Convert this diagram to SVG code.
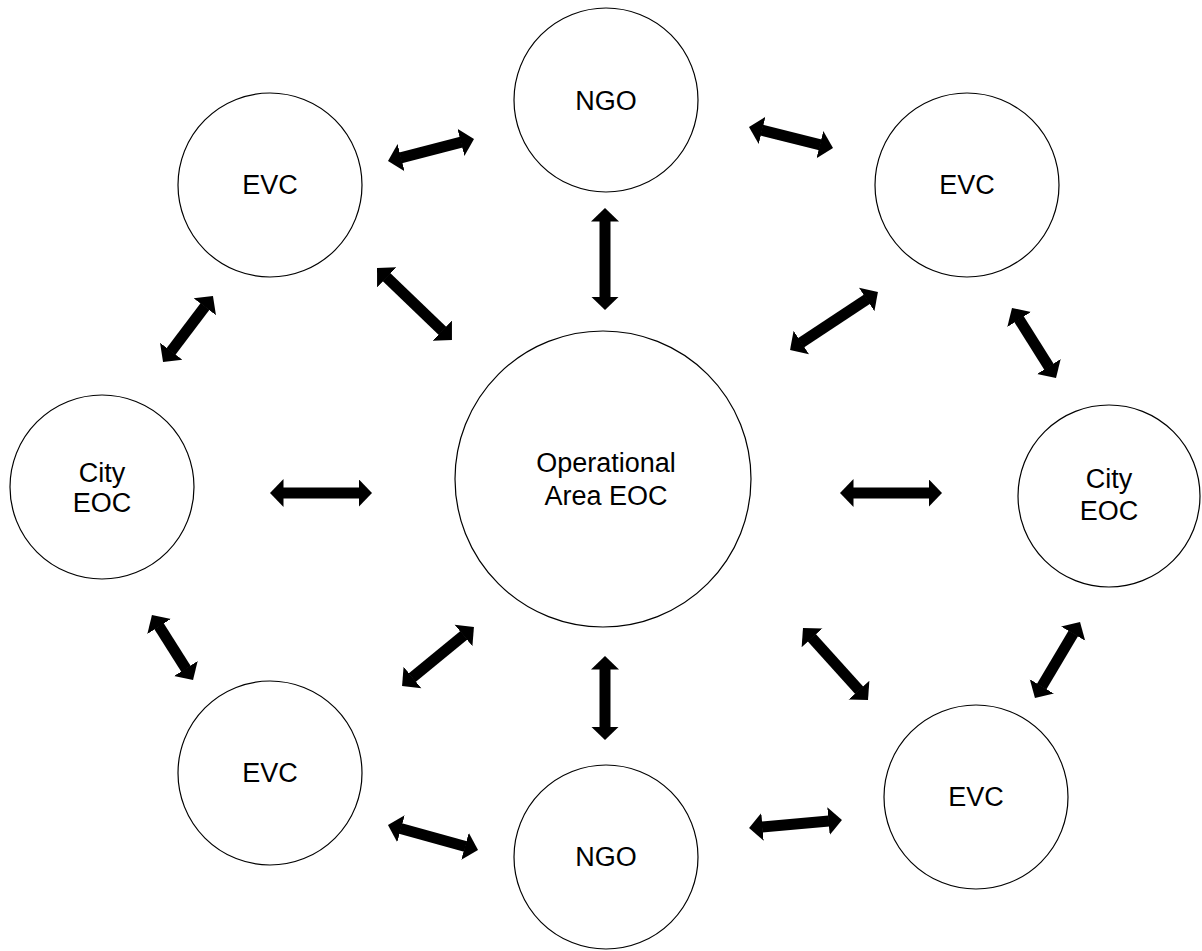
<svg xmlns="http://www.w3.org/2000/svg" width="1202" height="951" viewBox="0 0 1202 951">
<style>
.node{fill:#fff;stroke:#000;stroke-width:1.2}
.lbl{font-family:"Liberation Sans",Arial,sans-serif;font-size:27px;fill:#000;text-anchor:middle}
.arr{stroke:#000;stroke-width:11;fill:none;marker-start:url(#head);marker-end:url(#head)}
</style>
<defs>
<marker id="head" markerUnits="userSpaceOnUse" viewBox="0 -15 14 30" markerWidth="14" markerHeight="30" refX="0.5" refY="0" orient="auto-start-reverse">
<path d="M0,-14 L13.5,0 L0,14 z" fill="#000"/>
</marker>
</defs>
<rect width="1202" height="951" fill="#fff"/>
<g id="connectors">
<line class="arr" x1="400.6" y1="157.8" x2="461.4" y2="142.2"/>
<line class="arr" x1="761.6" y1="130.2" x2="820.4" y2="144.8"/>
<line class="arr" x1="605" y1="221" x2="605" y2="297"/>
<line class="arr" x1="386.4" y1="277" x2="442.6" y2="331"/>
<line class="arr" x1="867.1" y1="299.2" x2="800.9" y2="342.8"/>
<line class="arr" x1="205.1" y1="306.4" x2="170.9" y2="351.6"/>
<line class="arr" x1="1018.9" y1="319" x2="1049.1" y2="367"/>
<line class="arr" x1="283" y1="493" x2="359" y2="493"/>
<line class="arr" x1="853" y1="493" x2="929" y2="493"/>
<line class="arr" x1="158.9" y1="626" x2="186.1" y2="669"/>
<line class="arr" x1="412.1" y1="677.8" x2="463.9" y2="635.2"/>
<line class="arr" x1="605" y1="669" x2="605" y2="727"/>
<line class="arr" x1="811.7" y1="637.6" x2="859.3" y2="690.4"/>
<line class="arr" x1="1073.4" y1="633.2" x2="1041.6" y2="686.8"/>
<line class="arr" x1="400.5" y1="828.5" x2="465.5" y2="846.5"/>
<line class="arr" x1="762" y1="826.9" x2="829" y2="821.1"/>
</g>
<g id="center">
<circle class="node" cx="603" cy="479" r="148"/>
<text class="lbl" x="606" y="472">Operational</text>
<text class="lbl" x="606" y="505">Area EOC</text>
</g>
<g id="ngo-top">
<circle class="node" cx="606" cy="100" r="92"/>
<text class="lbl" x="606" y="110">NGO</text>
</g>
<g id="ngo-bottom">
<circle class="node" cx="606" cy="857" r="92"/>
<text class="lbl" x="606" y="866">NGO</text>
</g>
<g id="evc-tl">
<circle class="node" cx="270" cy="185" r="92"/>
<text class="lbl" x="270" y="194">EVC</text>
</g>
<g id="evc-tr">
<circle class="node" cx="967" cy="185" r="92"/>
<text class="lbl" x="967" y="194">EVC</text>
</g>
<g id="city-left">
<circle class="node" cx="102" cy="487" r="92"/>
<text class="lbl" x="102" y="482">City</text>
<text class="lbl" x="102" y="512">EOC</text>
</g>
<g id="city-right">
<circle class="node" cx="1109" cy="496" r="91"/>
<text class="lbl" x="1109" y="488">City</text>
<text class="lbl" x="1109" y="520">EOC</text>
</g>
<g id="evc-bl">
<circle class="node" cx="270" cy="773" r="92"/>
<text class="lbl" x="270" y="782">EVC</text>
</g>
<g id="evc-br">
<circle class="node" cx="976" cy="797" r="92"/>
<text class="lbl" x="976" y="806">EVC</text>
</g>
</svg>
